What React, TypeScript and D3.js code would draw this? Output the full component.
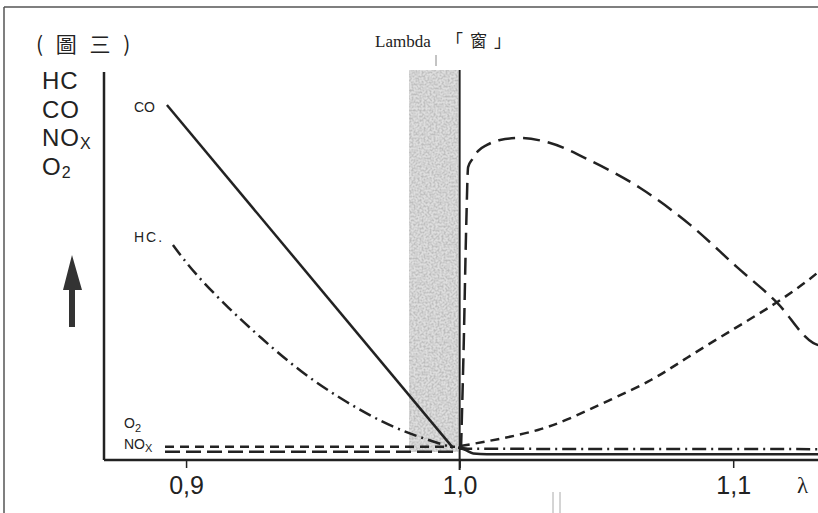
import React, { useEffect, useRef } from 'react';
import * as d3 from 'd3';

// lambda (air ratio) ticks
const lambdaTicks = [0.9, 1.0, 1.1];

// [lambda, relative concentration]
const coRich = [[0.893, 91.5], [0.9975, 3.2]];
const coLean = [[0.9995, 3.2], [1.002, 2.6], [1.005, 1.7], [1.01, 1.5], [1.131, 1.5]];
const hcRich = [
  [0.8952, 55.4], [0.9025, 48.5], [0.9161, 38.7], [0.927, 31.7], [0.9417, 22.7],
  [0.9588, 14.7], [0.9757, 8.2], [0.9918, 4.4], [0.9975, 3.2],
];
const hcLean = [[0.9995, 3.2], [1.003, 2.9], [1.131, 2.8]];
const noxRich = [[0.8923, 2.1], [0.9983, 2.1]];
const noxLean = [
  [1.0005, 2.6], [1.0015, 30], [1.0024, 60], [1.0031, 75.5], [1.0046, 77.5], [1.0067, 79.6],
  [1.01, 81.2], [1.0148, 82.5], [1.0221, 83.0], [1.0331, 81.7], [1.0488, 76.8],
  [1.066, 70.1], [1.0843, 60.6], [1.1014, 49.7], [1.1161, 40.5], [1.1292, 30.2], [1.1311, 29.6],
];
const o2Rich = [[0.8923, 3.4], [0.9983, 3.4]];
const o2Lean = [
  [1.0005, 3.6], [1.0027, 3.9], [1.0148, 5.4], [1.0294, 7.7], [1.0393, 10.3], [1.055, 15.5],
  [1.0707, 20.6], [1.0817, 25.8], [1.1014, 34.3], [1.1161, 40.5], [1.1292, 47.2], [1.1311, 48.5],
];
// lambda window band
const windowBand = [0.9815, 0.9995];

const App = () => {
  const svgRef = useRef(null);

  useEffect(() => {
    const W = 818, H = 513;
    const svg = d3.select(svgRef.current);
    svg.selectAll('*').remove();
    svg.attr('width', W).attr('height', H);

    const ink = '#222';
    const sans = '"Liberation Sans", Arial, sans-serif';
    const serif = '"Liberation Serif", "DejaVu Serif", serif';
    const cjk = '"Noto Sans CJK TC", "Noto Sans CJK SC", sans-serif';

    const x = d3.scaleLinear().domain([0.87, 1.131]).range([104, 818]);
    const y = d3.scaleLinear().domain([0, 100]).range([460, 72]);

    // grain filter for the shaded window
    const defs = svg.append('defs');
    const f = defs.append('filter').attr('id', 'grain').attr('x', 0).attr('y', 0).attr('width', 1).attr('height', 1);
    f.append('feTurbulence').attr('type', 'fractalNoise').attr('baseFrequency', 0.5).attr('numOctaves', 3).attr('seed', 7);
    f.append('feColorMatrix').attr('type', 'matrix')
      .attr('values', '0 0 0 0 0.5  0 0 0 0 0.5  0 0 0 0 0.5  0 0 0 2.4 -0.85');
    f.append('feComposite').attr('in2', 'SourceGraphic').attr('operator', 'in');

    // frame
    svg.append('line').attr('x1', 4).attr('x2', W).attr('y1', 7).attr('y2', 7)
      .attr('stroke', '#555').attr('stroke-width', 1.5);
    svg.append('line').attr('x1', 4).attr('x2', 4).attr('y1', 7).attr('y2', H)
      .attr('stroke', '#555').attr('stroke-width', 1.5);

    // window band
    const bx = x(windowBand[0]), bw = x(windowBand[1]) - x(windowBand[0]);
    svg.append('rect').attr('x', bx).attr('width', bw).attr('y', 70).attr('height', 382)
      .attr('fill', '#dedede');
    svg.append('rect').attr('x', bx).attr('width', bw).attr('y', 70).attr('height', 382)
      .attr('fill', '#fff').attr('filter', 'url(#grain)');

    // title
    svg.append('text').attr('x', 36).attr('y', 52)
      .style('font-family', cjk).style('font-size', '21px').attr('fill', ink)
      .style('letter-spacing', '4px')
      .text('( 圖 三 )');

    svg.append('text').attr('x', 375).attr('y', 47)
      .style('font-family', serif).style('font-size', '17px').attr('fill', ink)
      .text('Lambda');
    svg.append('text').attr('x', 446).attr('y', 47)
      .style('font-family', cjk).style('font-size', '17px').attr('fill', ink)
      .style('letter-spacing', '7px')
      .text('「窗」');
    svg.append('line').attr('x1', 436).attr('x2', 436).attr('y1', 55).attr('y2', 66)
      .attr('stroke', '#888').attr('stroke-width', 1);

    // y labels
    const yl = svg.append('g').style('font-family', sans).style('font-size', '24px')
      .style('letter-spacing', '1px').attr('fill', ink);
    yl.append('text').attr('x', 42).attr('y', 89).text('HC');
    yl.append('text').attr('x', 42).attr('y', 118).text('CO');
    const nox = yl.append('text').attr('x', 42).attr('y', 146);
    nox.append('tspan').text('NO');
    nox.append('tspan').attr('dy', 3).style('font-size', '16px').text('X');
    const o2 = yl.append('text').attr('x', 42).attr('y', 175);
    o2.append('tspan').text('O');
    o2.append('tspan').attr('dy', 3).style('font-size', '16px').text('2');

    // up arrow
    svg.append('path')
      .attr('d', 'M69,327 L69,290 L63,290 L72,255 L82,290 L75,290 L75,327 Z')
      .attr('fill', '#333');

    // axes
    svg.append('line').attr('x1', 104).attr('x2', 104).attr('y1', 72).attr('y2', 460)
      .attr('stroke', ink).attr('stroke-width', 2.5);
    svg.append('line').attr('x1', 104).attr('x2', W).attr('y1', 460).attr('y2', 460)
      .attr('stroke', ink).attr('stroke-width', 2.5);

    const xAxis = svg.append('g').attr('transform', 'translate(0,460)')
      .call(d3.axisBottom(x).tickValues(lambdaTicks).tickSize(8).tickPadding(8)
        .tickFormat(d => d3.format('.1f')(d).replace('.', ',')));
    xAxis.select('.domain').remove();
    xAxis.selectAll('line').attr('stroke', ink).attr('stroke-width', 1.5);
    xAxis.selectAll('text').style('font-family', sans).style('font-size', '25px').attr('fill', ink);

    svg.append('text').attr('x', 797).attr('y', 493)
      .style('font-family', serif).style('font-size', '23px').attr('fill', ink).text('λ');

    // lambda = 1 line
    svg.append('line').attr('x1', x(1.0)).attr('x2', x(1.0)).attr('y1', 70).attr('y2', 470)
      .attr('stroke', ink).attr('stroke-width', 2);

    // curves
    const line = d3.line().x(d => x(d[0])).y(d => y(d[1]));
    const mono = d3.line().x(d => x(d[0])).y(d => y(d[1])).curve(d3.curveMonotoneX);
    const basis = d3.line().x(d => x(d[0])).y(d => y(d[1])).curve(d3.curveBasis);
    const draw = (data, gen, dash) => svg.append('path').datum(data)
      .attr('fill', 'none').attr('stroke', ink).attr('stroke-width', 2.5)
      .attr('stroke-dasharray', dash).attr('d', gen);

    draw(o2Rich, line, '9,6');
    draw(noxRich, line, '15,6');
    draw(coRich, line, null);
    draw(hcRich, basis, '13,5,2,5');
    draw(coLean, mono, null);
    draw(hcLean, mono, '14,5,2,5');
    draw(noxLean, mono, '17,8');
    draw(o2Lean, basis, '9,6');

    // curve labels
    const cl = svg.append('g').style('font-family', sans).style('font-size', '14px').attr('fill', ink);
    cl.append('text').attr('x', 134).attr('y', 112).text('CO');
    cl.append('text').attr('x', 134).attr('y', 242).style('letter-spacing', '2px').text('HC.');
    const o2l = cl.append('text').attr('x', 124).attr('y', 428);
    o2l.append('tspan').text('O');
    o2l.append('tspan').attr('dy', 4).style('font-size', '11px').text('2');
    const noxl = cl.append('text').attr('x', 124).attr('y', 449);
    noxl.append('tspan').text('NO');
    noxl.append('tspan').attr('dy', 3).style('font-size', '11px').text('X');

    // scan marks at the bottom
    [553, 560].forEach(px => svg.append('line').attr('x1', px).attr('x2', px).attr('y1', 492).attr('y2', H)
      .attr('stroke', '#aaa').attr('stroke-width', 1));
  }, []);

  return (
    <div style={{ position: 'absolute', left: 0, top: 0, background: '#fff' }}>
      <svg ref={svgRef}></svg>
    </div>
  );
};

export default App;
